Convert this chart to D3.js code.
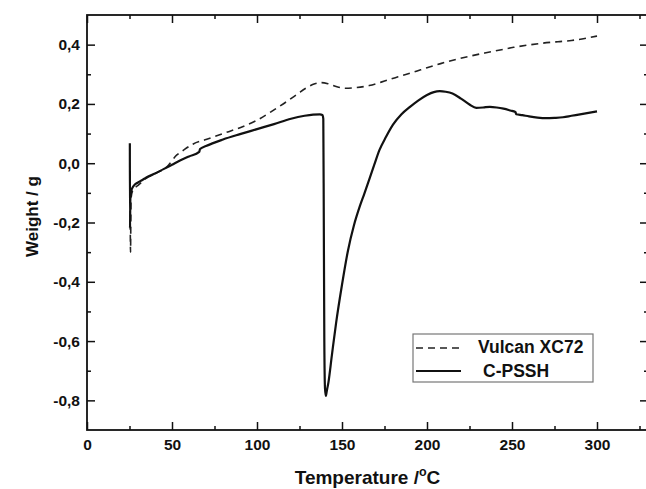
<!DOCTYPE html>
<html><head><meta charset="utf-8">
<script src="https://cdn.jsdelivr.net/npm/d3@7/dist/d3.min.js"></script>
<style>
html,body{margin:0;padding:0;background:#fff;overflow:hidden;}
svg{display:block;font-family:"Liberation Sans",Arial,sans-serif;}
</style></head>
<body>
<svg id="chart" width="646" height="489"></svg>
<script>
// ---- data ----
const psshT = [25.2,25.3,25.5,26,27,28,30,33,36,40,45,50,55,60,66,66.5,70,80,90,100,110,120,128,133,137,138.5,139,139.3,139.6,140,140.5,141,142,144,146.5,150,153.5,157,160.5,163,166.5,169,172,176,180,185,190,195,200,204,207.5,211,215,220,225,229,233,237,241,245,249,252,252.5,256,260,265,270,275,280,285,290,295,300];
const psshW = [0.067,-0.22,-0.12,-0.095,-0.08,-0.073,-0.065,-0.055,-0.045,-0.035,-0.02,-0.005,0.01,0.023,0.038,0.048,0.058,0.08,0.098,0.115,0.132,0.15,0.16,0.164,0.165,0.163,0.15,-0.2,-0.6,-0.76,-0.785,-0.77,-0.74,-0.65,-0.54,-0.41,-0.295,-0.21,-0.145,-0.105,-0.047,-0.005,0.044,0.09,0.13,0.165,0.19,0.212,0.23,0.24,0.243,0.241,0.235,0.218,0.198,0.187,0.188,0.19,0.188,0.184,0.178,0.173,0.165,0.162,0.158,0.154,0.152,0.153,0.155,0.16,0.165,0.17,0.175];
const vulcanT = [25.4,25.6,25.9,27,30,35,40,47,52.7,57,62.5,70,80,90,100,110,118,123.5,129,134,138,142,147,152,158,166,175,183,192,200,208,217,226,234,243,251,260,268,277,285,292,300];
const vulcanW = [-0.16,-0.30,-0.12,-0.09,-0.075,-0.05,-0.035,-0.012,0.027,0.045,0.065,0.08,0.1,0.12,0.145,0.18,0.21,0.232,0.254,0.268,0.272,0.268,0.258,0.253,0.255,0.262,0.277,0.292,0.307,0.322,0.336,0.35,0.362,0.372,0.382,0.391,0.399,0.405,0.41,0.414,0.42,0.429];
const xTicksMajor = [0,50,100,150,200,250,300];
const xTicksMinor = [25,75,125,175,225,275,325];
const yTicksMajor = [-0.8,-0.6,-0.4,-0.2,0.0,0.2,0.4];
const yTicksMinor = [-0.7,-0.5,-0.3,-0.1,0.1,0.3];
const seriesNames = ["Vulcan XC72","C-PSSH"];

// ---- layout ----
const L = 87, R = 648, T = 15, B = 430;
const svg = d3.select("#chart");
const x = d3.scaleLinear().domain([0,330]).range([L,R]);
const y = d3.scaleLinear().domain([-0.9,0.5]).range([B,T]);
const fmt = d => d.toFixed(1).replace(".", ",");

// frame
svg.append("rect").attr("x",L).attr("y",T).attr("width",R-L).attr("height",B-T)
  .attr("fill","none").attr("stroke","#111").attr("stroke-width",1.8);

// axes (inward ticks)
svg.append("g").attr("transform",`translate(0,${B})`)
  .call(d3.axisBottom(x).tickValues(xTicksMajor).tickSize(-8).tickPadding(9).tickFormat(d3.format("d")));
svg.append("g").attr("transform",`translate(0,${B})`)
  .call(d3.axisBottom(x).tickValues(xTicksMinor).tickSize(-4).tickFormat(""));
svg.append("g").attr("transform",`translate(0,${T})`)
  .call(d3.axisTop(x).tickValues(xTicksMajor).tickSize(-8).tickFormat(""));
svg.append("g").attr("transform",`translate(0,${T})`)
  .call(d3.axisTop(x).tickValues(xTicksMinor).tickSize(-4).tickFormat(""));
svg.append("g").attr("transform",`translate(${L},0)`)
  .call(d3.axisLeft(y).tickValues(yTicksMajor).tickSize(-8).tickPadding(7).tickFormat(fmt));
svg.append("g").attr("transform",`translate(${L},0)`)
  .call(d3.axisLeft(y).tickValues(yTicksMinor).tickSize(-4).tickFormat(""));
svg.append("g").attr("transform",`translate(${R},0)`)
  .call(d3.axisRight(y).tickValues(yTicksMajor).tickSize(-8).tickFormat(""));
svg.append("g").attr("transform",`translate(${R},0)`)
  .call(d3.axisRight(y).tickValues(yTicksMinor).tickSize(-4).tickFormat(""));
svg.selectAll(".domain").remove();
svg.selectAll(".tick line").attr("stroke","#111").attr("stroke-width",1.5);
svg.selectAll(".tick text").attr("fill","#111").attr("font-size","15.5px").attr("font-weight","bold")
  .attr("font-family","'Liberation Sans',Arial,sans-serif");

// axis titles
const xt = svg.append("text").attr("x",(L+R)/2).attr("y",484).attr("text-anchor","middle")
  .attr("font-size","19px").attr("font-weight","bold").attr("fill","#111");
xt.append("tspan").text("Temperature /");
xt.append("tspan").attr("dy",-8).attr("font-size","12.5px").text("o");
xt.append("tspan").attr("dy",8).text("C");
svg.append("text").attr("transform",`translate(38,${(T+B)/2 - 6}) rotate(-90)`).attr("text-anchor","middle")
  .attr("font-size","17px").attr("font-weight","bold").attr("fill","#111").text("Weight / g");

// lines
const lineGen = d3.line().x(d=>x(d[0])).y(d=>y(d[1])).curve(d3.curveMonotoneX);
const vData = vulcanT.map((t,i)=>[t,vulcanW[i]]);
const pData = psshT.map((t,i)=>[t,psshW[i]]);
svg.append("path").datum(vData).attr("d",lineGen).attr("fill","none")
  .attr("stroke","#222").attr("stroke-width",1.6).attr("stroke-dasharray","7,5");
svg.append("path").datum(pData).attr("d",lineGen).attr("fill","none")
  .attr("stroke","#111").attr("stroke-width",2.2).attr("stroke-linejoin","round");

// legend
const lg = svg.append("g");
lg.append("rect").attr("x",413).attr("y",334).attr("width",180).attr("height",48)
  .attr("fill","#fff").attr("stroke","#777").attr("stroke-width",1.2);
lg.append("line").attr("x1",416).attr("x2",462).attr("y1",348).attr("y2",348)
  .attr("stroke","#222").attr("stroke-width",1.6).attr("stroke-dasharray","7,5");
lg.append("line").attr("x1",416).attr("x2",461).attr("y1",371).attr("y2",371)
  .attr("stroke","#111").attr("stroke-width",2.2);
lg.append("text").attr("x",478).attr("y",353).attr("font-size","17.5px").attr("font-weight","bold")
  .attr("fill","#111").text(seriesNames[0]);
lg.append("text").attr("x",483).attr("y",377).attr("font-size","17.5px").attr("font-weight","bold")
  .attr("fill","#111").text(seriesNames[1]);
</script>
</body></html>
